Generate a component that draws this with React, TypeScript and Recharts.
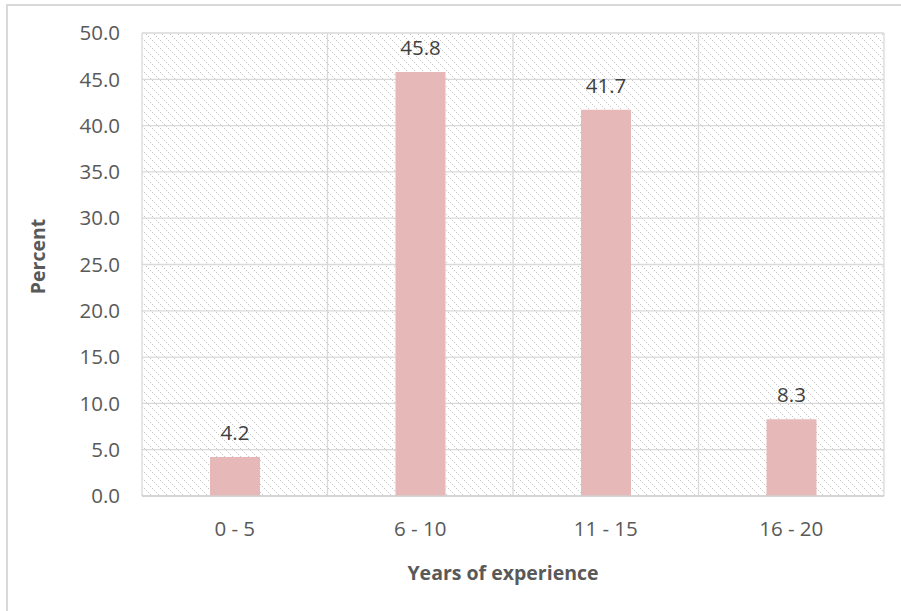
import React from 'react';
import { BarChart, Bar, XAxis, YAxis, CartesianGrid, LabelList, Label } from 'recharts';

// Share of respondents by years of experience (percent)
const experienceGroups: string[] = ['0 - 5', '6 - 10', '11 - 15', '16 - 20'];
const percentValues: number[] = [4.2, 45.8, 41.7, 8.3];
const percentTicks: number[] = [0, 5, 10, 15, 20, 25, 30, 35, 40, 45, 50];

const rows = experienceGroups.map((group, i) => ({ group, percent: percentValues[i] }));

const FONT = '"Open Sans", "DejaVu Sans", sans-serif';
const TICK_COLOR = '#595959';
const LABEL_COLOR = '#404040';
const GRID_COLOR = '#d9d9d9';
const BAR_COLOR = '#e6b8b7';

const W = 901;
const H = 611;

// Vertical grid lines sit on the category boundaries, not the category centres
const boundaryLines = (props: any): number[] => {
  const off = props && props.offset ? props.offset : { left: 142, width: 742 };
  const n = experienceGroups.length;
  const out: number[] = [];
  for (let i = 0; i <= n; i++) out.push(off.left + (i * off.width) / n);
  return out;
};

const YTitle = (props: any) => {
  const vb = props.viewBox || { x: 0, y: 33, width: 142, height: 463 };
  const cx = 37;
  const cy = vb.y + vb.height / 2 - 8;
  return (
    <text
      x={cx}
      y={cy}
      transform={`rotate(-90, ${cx}, ${cy})`}
      textAnchor="middle"
      dominantBaseline="central"
      fontFamily={FONT}
      fontSize={19.5}
      fontWeight={700}
      fill={TICK_COLOR}
    >
      Percent
    </text>
  );
};

const XTitle = (props: any) => {
  const vb = props.viewBox || { x: 142, y: 496, width: 742, height: 30 };
  return (
    <text
      x={vb.x + vb.width / 2 - 10}
      y={580}
      textAnchor="middle"
      fontFamily={FONT}
      fontSize={19.5}
      fontWeight={700}
      fill={TICK_COLOR}
    >
      Years of experience
    </text>
  );
};

export default function App() {
  return (
    <div
      style={{
        position: 'fixed',
        left: 0,
        top: 0,
        width: W,
        height: H,
        overflow: 'hidden',
        background: '#ffffff',
        fontFamily: FONT,
      }}
    >
      <div
        style={{
          position: 'absolute',
          left: 6,
          top: 4,
          width: 1000,
          height: 800,
          border: `2px solid ${GRID_COLOR}`,
          boxSizing: 'border-box',
        }}
      />
      <div style={{ position: 'absolute', left: 0, top: 0 }}>
        <BarChart
          width={W}
          height={H}
          data={rows}
          margin={{ top: 33, right: 17, bottom: 85, left: 0 }}
        >
          <defs>
            <pattern id="plotHatch" width="8" height="8" patternUnits="userSpaceOnUse">
              <rect width="8" height="8" fill="#ffffff" />
              <path
                d="M-2,-2 L10,10 M-2,6 L2,10 M6,-2 L10,2"
                stroke="#c4c4c4"
                strokeWidth={1}
                strokeDasharray="1.4 1.4"
              />
            </pattern>
          </defs>
          <CartesianGrid
            fill="url(#plotHatch)"
            fillOpacity={1}
            stroke={GRID_COLOR}
            strokeWidth={1.3}
            verticalCoordinatesGenerator={boundaryLines}
          />
          <XAxis
            dataKey="group"
            height={30}
            tickSize={0}
            tickMargin={25}
            axisLine={{ stroke: '#d0d0d0', strokeWidth: 1.6 }}
            tickLine={false}
            tick={{ fill: TICK_COLOR, fontSize: 20.5, fontFamily: FONT }}
          >
            <Label content={<XTitle />} />
          </XAxis>
          <YAxis
            width={142}
            domain={[0, 50]}
            ticks={percentTicks}
            interval={0}
            allowDataOverflow
            tickSize={0}
            tickMargin={22}
            axisLine={false}
            tickLine={false}
            tickFormatter={(v: number) => v.toFixed(1)}
            tick={{ fill: TICK_COLOR, fontSize: 20.5, fontFamily: FONT }}
          >
            <Label content={<YTitle />} />
          </YAxis>
          <Bar dataKey="percent" fill={BAR_COLOR} barSize={50} isAnimationActive={false}>
            <LabelList
              dataKey="percent"
              position="top"
              offset={17}
              formatter={(v: any) => Number(v).toFixed(1)}
              fill={LABEL_COLOR}
              fontSize={20.5}
              fontFamily={FONT}
            />
          </Bar>
        </BarChart>
      </div>
    </div>
  );
}
